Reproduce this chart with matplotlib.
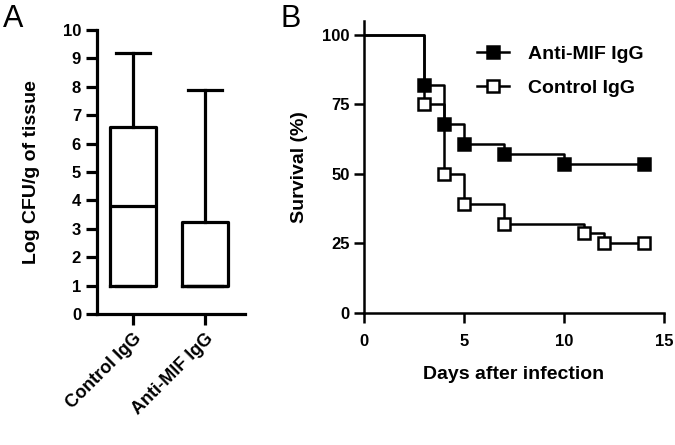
import numpy as np
import matplotlib.pyplot as plt
from matplotlib.lines import Line2D

plt.rcParams['font.family'] = ['Liberation Sans', 'DejaVu Sans']
plt.rcParams['font.weight'] = 'bold'
plt.rcParams['axes.labelweight'] = 'bold'

# Panel A: box summary (log CFU/g of tissue)
groups = ['Control IgG', 'Anti-MIF IgG']
box_low = [1.0, 1.0]
box_q1 = [1.0, 1.0]
box_med = [3.82, 1.0]
box_q3 = [6.6, 3.25]
box_high = [9.2, 7.9]

# Panel B: Kaplan-Meier survival
anti_days = [0, 3, 4, 5, 7, 10, 14]
anti_surv = [100, 82.1, 67.9, 60.7, 57.1, 53.6, 53.6]
ctrl_days = [0, 3, 4, 5, 7, 11, 12, 14]
ctrl_surv = [100, 75.0, 50.0, 39.3, 32.1, 28.6, 25.0, 25.0]

fig = plt.figure(figsize=(6.75, 4.45), dpi=100)

# ---- panel A
axA = fig.add_axes([0.1437, 0.2944, 0.2193, 0.6382])
stats = []
for i, g in enumerate(groups):
    stats.append(dict(label=g, whislo=box_low[i], q1=box_q1[i], med=box_med[i],
                      q3=box_q3[i], whishi=box_high[i]))
lw = 2.3
axA.bxp(stats, positions=[0, 1], widths=0.64, showfliers=False,
        boxprops=dict(color='black', linewidth=lw),
        medianprops=dict(color='black', linewidth=lw),
        whiskerprops=dict(color='black', linewidth=lw),
        capprops=dict(color='black', linewidth=lw),
        capwidths=0.47)
axA.set_xlim(-0.5, 1.55)
axA.set_ylim(0, 10)
axA.set_yticks(range(0, 11))
axA.spines['top'].set_visible(False)
axA.spines['right'].set_visible(False)
for s in ['left', 'bottom']:
    axA.spines[s].set_linewidth(lw)
axA.tick_params(width=lw, length=8, labelsize=12)
axA.set_xticks([0, 1])
axA.set_xticklabels(groups, rotation=45, ha='right', va='top',
                    rotation_mode='anchor', fontsize=13)
axA.set_ylabel('Log CFU/g of tissue', fontsize=14, labelpad=16)
fig.text(0.005, 0.99, 'A', fontsize=22, fontweight='normal', va='top')

# ---- panel B
axB = fig.add_axes([0.5393, 0.2966, 0.4444, 0.6562])
lwB = 1.8
axB.step(anti_days, anti_surv, where='post', color='black', lw=lwB)
axB.step(ctrl_days, ctrl_surv, where='post', color='black', lw=lwB)
axB.plot(anti_days[1:], anti_surv[1:], ls='none', marker='s', ms=9,
         mfc='black', mec='black', mew=1.8)
axB.plot(ctrl_days[1:], ctrl_surv[1:], ls='none', marker='s', ms=9,
         mfc='white', mec='black', mew=1.8)
axB.set_xlim(0, 15)
axB.set_ylim(0, 105)
axB.set_xticks([0, 5, 10, 15])
axB.set_yticks([0, 25, 50, 75, 100])
axB.spines['top'].set_visible(False)
axB.spines['right'].set_visible(False)
for s in ['left', 'bottom']:
    axB.spines[s].set_linewidth(lwB)
axB.tick_params(width=lwB, length=7, labelsize=12)
axB.tick_params(axis='x', pad=8)
axB.set_xlabel('Days after infection', fontsize=14, labelpad=12)
axB.set_ylabel('Survival (%)', fontsize=14, labelpad=10)

handles = [
    Line2D([], [], color='black', lw=lwB, marker='s', ms=9, mfc='black', mec='black', mew=1.8),
    Line2D([], [], color='black', lw=lwB, marker='s', ms=9, mfc='white', mec='black', mew=1.8),
]
axB.legend(handles, ['Anti-MIF IgG', 'Control IgG'], loc='upper left',
           bbox_to_anchor=(0.693, 0.92), bbox_transform=fig.transFigure,
           frameon=False, fontsize=14, handlelength=1.6, handletextpad=1.0,
           labelspacing=0.85, borderpad=0)
fig.text(0.415, 0.99, 'B', fontsize=22, fontweight='normal', va='top')

fig.savefig('out.png', dpi=100)
